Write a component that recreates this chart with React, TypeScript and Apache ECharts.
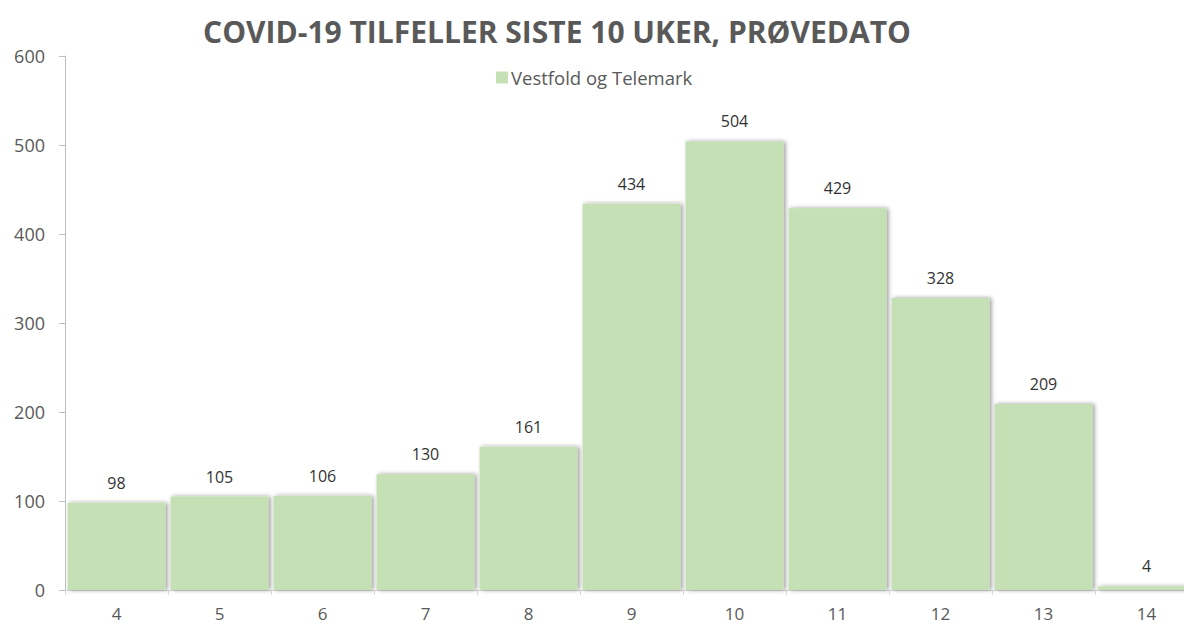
import React, { useEffect, useRef } from "react";
import * as echarts from "echarts";

const categories = ["4", "5", "6", "7", "8", "9", "10", "11", "12", "13", "14"];
const cases = [98, 105, 106, 130, 161, 434, 504, 429, 328, 209, 4];
const seriesName = "Vestfold og Telemark";
const titleText = "COVID-19 TILFELLER SISTE 10 UKER, PRØVEDATO";

export default function App() {
  const ref = useRef<HTMLDivElement>(null);
  useEffect(() => {
    if (!ref.current) return;
    const chart = echarts.init(ref.current, undefined, { renderer: "svg" });
    const font = "Open Sans, Noto Sans, sans-serif";
    chart.setOption({
      animation: false,
      backgroundColor: "#ffffff",
      textStyle: { fontFamily: font },
      title: {
        text: titleText,
        left: 552,
        textAlign: "center",
        top: 11,
        textStyle: { fontFamily: font, fontWeight: "bold", fontSize: 30, color: "#595959" },
      },
      legend: {
        data: [seriesName],
        left: 491,
        top: 63,
        itemWidth: 12,
        itemHeight: 12,
        itemGap: 6,
        icon: "rect",
        textStyle: { fontFamily: font, fontSize: 18.5, color: "#595959", padding: [0, 0, 0, -2] },
      },
      grid: { left: 65, right: 0, top: 56, bottom: 36, containLabel: false },
      xAxis: {
        type: "category",
        data: categories,
        axisLine: { lineStyle: { color: "#d9d9d9", width: 1 } },
        axisTick: { show: true, length: 5, lineStyle: { color: "#d9d9d9" } },
        axisLabel: { color: "#595959", fontSize: 17, margin: 14, lineHeight: 18, fontFamily: font },
      },
      yAxis: {
        type: "value",
        min: 0,
        max: 600,
        interval: 100,
        axisLine: { show: true, lineStyle: { color: "#bfbfbf", width: 1 } },
        axisTick: { show: true, length: 6, lineStyle: { color: "#bfbfbf" } },
        splitLine: { show: false },
        axisLabel: { color: "#595959", fontSize: 18, margin: 20, fontFamily: font },
      },
      series: [
        {
          name: seriesName,
          type: "bar",
          data: cases,
          barCategoryGap: "5%",
          itemStyle: {
            color: "#c5e0b4",
            shadowColor: "rgba(0,0,0,0.4)",
            shadowBlur: 4,
            shadowOffsetX: 2,
            shadowOffsetY: 0,
          },
          label: {
            show: true,
            position: "top",
            distance: 12,
            color: "#333333",
            fontSize: 16,
            fontFamily: font,
          },
        },
      ],
    });
    return () => chart.dispose();
  }, []);
  return (
    <div
      ref={ref}
      style={{ position: "fixed", left: 0, top: 0, width: 1198, height: 626, background: "#fff" }}
    />
  );
}
